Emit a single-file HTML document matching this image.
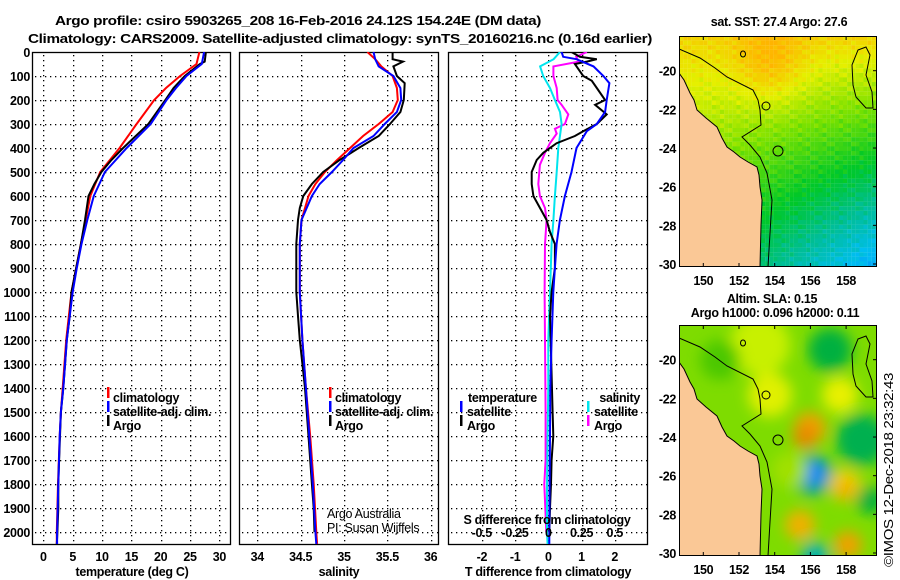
<!DOCTYPE html>
<html><head><meta charset="utf-8">
<style>
html,body{margin:0;padding:0;background:#fff;}
svg{display:block;}
text{font-family:"Liberation Sans",Arial,sans-serif;font-weight:bold;font-size:12.5px;letter-spacing:-0.3px;fill:#000;}
.thin{font-weight:normal;}
</style></head>
<body>
<svg id="chart" width="900" height="580" viewBox="0 0 900 580" xmlns="http://www.w3.org/2000/svg">
<defs>
<filter id="blur6" x="-20%" y="-20%" width="140%" height="140%"><feGaussianBlur stdDeviation="7"/></filter>
<clipPath id="clipTop"><rect x="679" y="36" width="198" height="231"/></clipPath>
<clipPath id="clipBot"><rect x="679" y="325" width="198" height="231"/></clipPath>
<clipPath id="cp1"><rect x="32" y="52" width="199" height="493"/></clipPath>
<clipPath id="cp2"><rect x="239" y="52" width="200" height="493"/></clipPath>
<clipPath id="cp3"><rect x="448" y="52" width="200" height="493"/></clipPath>
</defs>
<text x="298" y="25" text-anchor="middle" textLength="486" lengthAdjust="spacingAndGlyphs" font-size="14">Argo profile: csiro 5903265_208 16-Feb-2016 24.12S 154.24E (DM data)</text>
<text x="340" y="43" text-anchor="middle" textLength="624" lengthAdjust="spacingAndGlyphs" font-size="14">Climatology: CARS2009. Satellite-adjusted climatology: synTS_20160216.nc (0.16d earlier)</text>
<g id="panels"></g>
<g id="maps"></g>
<text transform="translate(893,470) rotate(-90)" text-anchor="middle" class="thin" font-size="13" textLength="194" lengthAdjust="spacingAndGlyphs">©IMOS 12-Dec-2018 23:32:43</text>
</svg>
<script>
// ---------- data ----------
const depthsT = [0,40,50,100,150,200,300,400,450,500,550,600,700,800,900,1000,1100,1200,1400,1500,1600,1700,1800,1900,2000,2050];
const argoT   = [27.7,27.5,26.7,24.1,22.2,20.8,17.9,13.6,11.6,9.9,8.7,7.7,7.1,6.4,5.6,4.8,4.5,4.0,3.4,3.0,2.85,2.7,2.55,2.55,2.4,2.3];
const depthsC = [0,50,100,150,200,300,400,500,600,700,800,900,1000,1200,1400,1500,1600,1800,2000,2050];
const climT   = [26.6,26.1,23.3,20.9,18.9,15.9,13.0,9.7,8.0,7.2,6.4,5.6,4.8,3.9,3.3,3.0,2.8,2.5,2.3,2.3];
const satT    = [27.4,27.0,24.4,22.6,21.0,18.3,14.2,10.5,8.6,7.5,6.5,5.7,5.0,4.0,3.4,3.0,2.8,2.55,2.35,2.35];
const depthsS = [0,30,40,60,100,130,200,250,300,350,400,450,500,550,600,650,700,800,1000,1100,1200,1400,1600,1800,1900,2000];
const argoS   = [35.56,35.56,35.68,35.57,35.61,35.70,35.69,35.65,35.53,35.40,35.17,34.95,34.76,34.63,34.53,34.49,34.47,34.45,34.45,34.47,34.49,34.55,34.59,34.63,34.65,34.66];
const depthsSC= [0,30,60,100,150,200,250,300,350,400,450,500,550,600,700,800,1000,1200,1400,1600,1800,2000,2050];
const climS   = [35.27,35.36,35.43,35.56,35.61,35.62,35.56,35.40,35.22,35.07,34.92,34.78,34.67,34.59,34.51,34.49,34.49,34.52,34.56,34.61,34.65,34.68,34.69];
const satS    = [35.34,35.36,35.40,35.57,35.65,35.66,35.61,35.47,35.34,35.11,34.99,34.86,34.72,34.63,34.51,34.49,34.49,34.52,34.56,34.60,34.64,34.67,34.68];
const depthsDA= [0,20,30,40,50,70,100,120,150,200,220,260,300,330,350,380,420,450,500,550,600,650,700,750,800,900,1000,1100,1500,1600,1700,1800,1900,2000];
const argoDT  = [0.70,0.95,1.46,1.16,0.80,0.90,1.05,1.31,1.46,1.71,1.41,1.76,1.46,1.05,0.80,0.25,-0.15,-0.35,-0.50,-0.50,-0.45,-0.25,-0.05,0.05,0.20,0.20,0.10,0.05,0.13,0.15,0.10,0.08,0.05,0.03];
const depthsDS= [0,20,30,60,100,130,200,250,300,330,400,500,600,700,800,900,1000,1200,1400,1600,1800,2000,2050];
const satDT   = [0.40,0.45,0.85,1.36,1.66,1.84,1.76,1.71,1.46,1.16,0.85,0.70,0.50,0.35,0.25,0.20,0.15,0.10,0.06,0.05,0.04,0.03,0.03];
const depthsCS= [0,30,60,100,150,200,250,300,400,500,600,700,800,1000,1200,1400,1600,1800,2000,2050];
const satDS   = [0.088,0.04,-0.062,-0.038,0.013,0.05,0.088,0.10,0.075,0.063,0.05,0.038,0.025,0.013,0.0,0.0,-0.005,-0.01,-0.01,-0.005];
const depthsMS= [0,20,40,60,100,150,200,220,260,300,320,340,380,420,470,550,600,650,700,800,1000,1200,1500,1700,1800,2000];
const argoDS  = [0.29,0.21,0.23,0.038,0.038,0.063,0.07,0.10,0.15,0.125,0.05,0.063,0.013,-0.025,-0.063,-0.075,-0.063,-0.025,-0.013,-0.025,-0.028,-0.025,-0.02,-0.02,-0.03,-0.015];
const depthTicks = [0,100,200,300,400,500,600,700,800,900,1000,1100,1200,1300,1400,1500,1600,1700,1800,1900,2000];
const tTicks = [0,5,10,15,20,25,30];
const sTicks = [34,34.5,35,35.5,36];
const sTickLabels = ["34","34.5","35","35.5","36"];
const dtTicks = [-2,-1,0,1,2];
const dsTicks = [-0.5,-0.25,0,0.25,0.5];
const dsTickLabels = ["-0.5","-0.25","0","0.25","0.5"];
const lonTicks = [150,152,154,156,158];
const latTicks = [-20,-22,-24,-26,-28,-30];

// ---------- scales ----------
const yD = d => 52 + d*0.24;
const xT = t => 43.3 + t*5.87;
const xS = s => 257.3 + (s-34)*86.7;
const xDT = v => 548.3 + v*33.2;
const xDS = v => 548.3 + v*133;
const xLon = l => 703.3 + (l-150)*17.85;

const NS = "http://www.w3.org/2000/svg";
function mk(tag, attrs, parent){const e=document.createElementNS(NS,tag);for(const k in attrs)e.setAttribute(k,attrs[k]);parent.appendChild(e);return e;}
const P = document.getElementById('panels');

function panel(x0,x1,name,xticks,xfun,labels,clip){
  const g = mk('g',{},P);
  
  
  const grid = mk('g',{fill:'#000'},g);
  
  
  depthTicks.forEach(d=>{ if(d>0){ const y=Math.round(yD(d)); for(let x=x0+3;x<x1-1;x+=5) mk('rect',{x:x,y:y,width:1.3,height:1.3},grid); } });
  xticks.forEach(v=>{ const x=Math.round(xfun(v)); for(let y=55;y<544;y+=5) mk('rect',{x:x,y:y,width:1.3,height:1.3},grid); });
  const fr = mk('rect',{x:x0+0.5,y:52.5,width:x1-x0-1,height:492,fill:'none',stroke:'#000','stroke-width':1.3},g);
  
  
  xticks.forEach((v,i)=>{
    const t = mk('text',{x:xfun(v),y:561,'text-anchor':'middle'},g);
    t.textContent = labels[i];
    
    
  });
  const cg = mk('g',{'clip-path':'url(#'+clip+')'},g);
  return cg;
}
function line(g,ds,vs,xf,color,name,w){
  const pts = ds.map((d,i)=>xf(vs[i]).toFixed(1)+','+yD(d).toFixed(1)).join(' ');
  const p = mk('polyline',{points:pts,fill:'none',stroke:color,'stroke-width':w||2,'stroke-linejoin':'miter'},g);
  
  
}
function txt(x,y,s,name,attrs){
  const t = mk('text',Object.assign({x:x,y:y},attrs||{}),P);
  t.textContent = s;
  
  
  return t;
}
function legendMark(x,y,color,name){
  const r = mk('rect',{x:x,y:y-10,width:2.5,height:11,fill:color},P);
  
  
}

// y tick labels
depthTicks.forEach(d=>{ txt(30,yD(d)+5,String(d),'y-tick-label',{'text-anchor':'end'}); });

// panel 1
const g1 = panel(32,231,'temperature-panel',tTicks,xT,tTicks.map(String),'cp1');
line(g1,depthsC,climT,xT,'#ff0000','climatology-temperature-line');
line(g1,depthsT,argoT,xT,'#000000','argo-temperature-line');
line(g1,depthsC,satT,xT,'#0000ff','satellite-temperature-line');
txt(132,576,'temperature (deg C)','x-axis-title-temperature',{'text-anchor':'middle'});
legendMark(107,397,'#ff0000','legend-climatology-marker'); txt(113,402,'climatology','legend-climatology');
legendMark(107,411,'#0000ff','legend-satellite-marker'); txt(113,416,'satellite-adj. clim.','legend-satellite-adj');
legendMark(107,425,'#000000','legend-argo-marker'); txt(113,430,'Argo','legend-argo');

// panel 2
const g2 = panel(239,439,'salinity-panel',sTicks,xS,sTickLabels,'cp2');
line(g2,depthsSC,climS,xS,'#ff0000','climatology-salinity-line');
line(g2,depthsS,argoS,xS,'#000000','argo-salinity-line');
line(g2,depthsSC,satS,xS,'#0000ff','satellite-salinity-line');
txt(339,576,'salinity','x-axis-title-salinity',{'text-anchor':'middle'});
legendMark(329,397,'#ff0000','legend-climatology-marker-s'); txt(335,402,'climatology','legend-climatology-s');
legendMark(329,411,'#0000ff','legend-satellite-marker-s'); txt(335,416,'satellite-adj. clim.','legend-satellite-adj-s');
legendMark(329,425,'#000000','legend-argo-marker-s'); txt(335,430,'Argo','legend-argo-s');
txt(327,518,'Argo Australia','credit-argo-australia',{'class':'thin'});
txt(327,532,'PI: Susan Wijffels','credit-pi',{'class':'thin'});

// panel 3
const g3 = panel(448,648,'difference-panel',dtTicks,xDT,dtTicks.map(String),'cp3');
line(g3,depthsMS,argoDS,xDS,'#ff00ff','argo-salinity-diff-line');
line(g3,depthsCS,satDS,xDS,'#00e5ee','satellite-salinity-diff-line');
line(g3,depthsDA,argoDT,xDT,'#000000','argo-temperature-diff-line');
line(g3,depthsDS,satDT,xDT,'#0000ff','satellite-temperature-diff-line');
txt(548,576,'T difference from climatology','x-axis-title-tdiff',{'text-anchor':'middle'});
txt(547,524,'S difference from climatology','s-axis-title',{'text-anchor':'middle'});
dsTicks.forEach((v,i)=>txt(xDS(v),537,dsTickLabels[i],'s-tick-label',{'text-anchor':'middle'}));
txt(468,402,'temperature','legend-temperature-heading');
legendMark(460,411,'#0000ff','legend-t-satellite-marker'); txt(467,416,'satellite','legend-t-satellite');
legendMark(460,425,'#000000','legend-t-argo-marker'); txt(467,430,'Argo','legend-t-argo');
txt(640,402,'salinity','legend-salinity-heading',{'text-anchor':'end'});
legendMark(587,411,'#00e5ee','legend-s-satellite-marker'); txt(594,416,'satellite','legend-s-satellite');
legendMark(587,425,'#ff00ff','legend-s-argo-marker'); txt(594,430,'Argo','legend-s-argo');

// ---------- maps ----------
const M = document.getElementById('maps');
const coast = [[679,73],[684,80],[690,93],[694,100],[697,110],[706,118],[717,127],[722,138],[727,147],[734,152],[740,157],[748,162],[757,167],[759,175],[760,187],[762,200],[761,225],[760,267]];
const iso = [[679,49],[700,58],[715,68],[727,77],[753,90],[758,100],[760,110],[761,125],[742,137],[750,145],[760,157],[767,173],[772,200],[770,233],[768,267]];
const reef = [[858,50],[866,47],[870,55],[866,75],[872,92],[873,108],[866,108],[856,97],[853,85],[852,65]];
function sstColor(cx,cy){
  const u=(cx-679)/198, v=(cy-36)/231;
  let t = 0.92 - 0.5*v - 0.3*u*v + 0.15*(1-u)*v
        + 0.12*Math.exp(-((u-0.45)*(u-0.45)+(v-0.12)*(v-0.12))/0.03)
        + 0.04*Math.sin(cx*0.9+cy*1.3)*Math.cos(cx*0.37-cy*0.71);
  const stops=[[0.0,[0,120,255]],[0.2,[0,190,240]],[0.35,[0,190,150]],[0.5,[0,200,40]],[0.68,[120,225,0]],[0.85,[230,240,0]],[1.0,[255,180,0]]];
  t=Math.max(0,Math.min(1,t));
  for(let i=1;i<stops.length;i++){ if(t<=stops[i][0]){const a=stops[i-1],b=stops[i];const f=(t-a[0])/(b[0]-a[0]);return 'rgb('+a[1].map((c,k)=>Math.round(c+(b[1][k]-c)*f)).join(',')+')';}}
  return 'rgb(255,180,0)';
}
function drawMap(top,name,isSST){
  const g = mk('g',{},M);
  
  
  const off = top-36;
  const img = mk('g',{'clip-path':'url(#'+(isSST?'clipTop':'clipBot')+')'},g);
  if(isSST){
    for(let y=36;y<267;y+=4.6){ for(let x=679;x<877;x+=4.1){ mk('rect',{x:x,y:y,width:4.2,height:4.7,fill:sstColor(x,y)},img); } }
  } else {
    mk('rect',{x:679,y:top,width:198,height:231,fill:'#7edc00'},img);
    const bl = mk('g',{filter:'url(#blur6)'},img);
    const blobs=[[760,345,30,'#c8f000'],[720,360,20,'#4cc800'],[830,350,22,'#00b040'],[770,395,22,'#e0f000'],[810,428,16,'#f0a000'],[805,437,12,'#e88800'],[862,440,26,'#00b050'],[813,475,20,'#00a0b0'],[813,473,11,'#0080ff'],[845,485,16,'#f0d000'],[845,490,10,'#f0b000'],[870,500,14,'#00b040'],[800,525,15,'#f0b000'],[848,545,14,'#f0a000'],[815,556,14,'#00b0b0'],[790,470,18,'#a0e000'],[840,395,18,'#e8f000']];
    blobs.forEach(b=>mk('circle',{cx:b[0],cy:b[1],r:b[2],fill:b[3]},bl));
  }
  const land = coast.map(p=>p[0]+','+(p[1]+off)).join(' ')+' 679,'+(267+off);
  const l = mk('polygon',{points:land,fill:'#fac896',stroke:'#000','stroke-width':1},img);
  
  
  mk('polyline',{points:iso.map(p=>p[0]+','+(p[1]+off)).join(' '),fill:'none',stroke:'#000','stroke-width':1},img);
  mk('polygon',{points:reef.map(p=>p[0]+','+(p[1]+off)).join(' '),fill:'none',stroke:'#000','stroke-width':1},img);
  mk('ellipse',{cx:743,cy:54+off,rx:2.5,ry:3,fill:'none',stroke:'#000'},img);
  mk('ellipse',{cx:766,cy:106+off,rx:4,ry:4,fill:'none',stroke:'#000'},img);
  const c = mk('circle',{cx:778,cy:151+off,r:5,fill:'none',stroke:'#000','stroke-width':1},img);
  
  
  mk('rect',{x:679.5,y:top+0.5,width:197,height:230,fill:'none',stroke:'#000','stroke-width':1},g);
  lonTicks.forEach(v=>{
    mk('line',{x1:xLon(v),x2:xLon(v),y1:top,y2:top+4,stroke:'#000'},g);
    mk('line',{x1:xLon(v),x2:xLon(v),y1:top+231,y2:top+227,stroke:'#000'},g);
    const t=mk('text',{x:xLon(v),y:top+249,'text-anchor':'middle'},g); t.textContent=String(v);
    
    
  });
  latTicks.forEach(v=>{
    const y = top + 34.7 + (-20 - v)*19.33;
    mk('line',{x1:873,x2:877,y1:y,y2:y,stroke:'#000'},g);
    const t=mk('text',{x:676,y:y+5,'text-anchor':'end'},g); t.textContent=String(v);
    
    
  });
}
drawMap(36,'sst-map',true);
drawMap(325,'sla-map',false);
txt(779,26,'sat. SST: 27.4 Argo: 27.6','sst-map-title',{'text-anchor':'middle'});
txt(772,303,'Altim. SLA: 0.15','sla-map-title',{'text-anchor':'middle'});
txt(775,317,'Argo h1000: 0.096 h2000: 0.11','sla-map-subtitle',{'text-anchor':'middle'});
</script>
</body></html>
